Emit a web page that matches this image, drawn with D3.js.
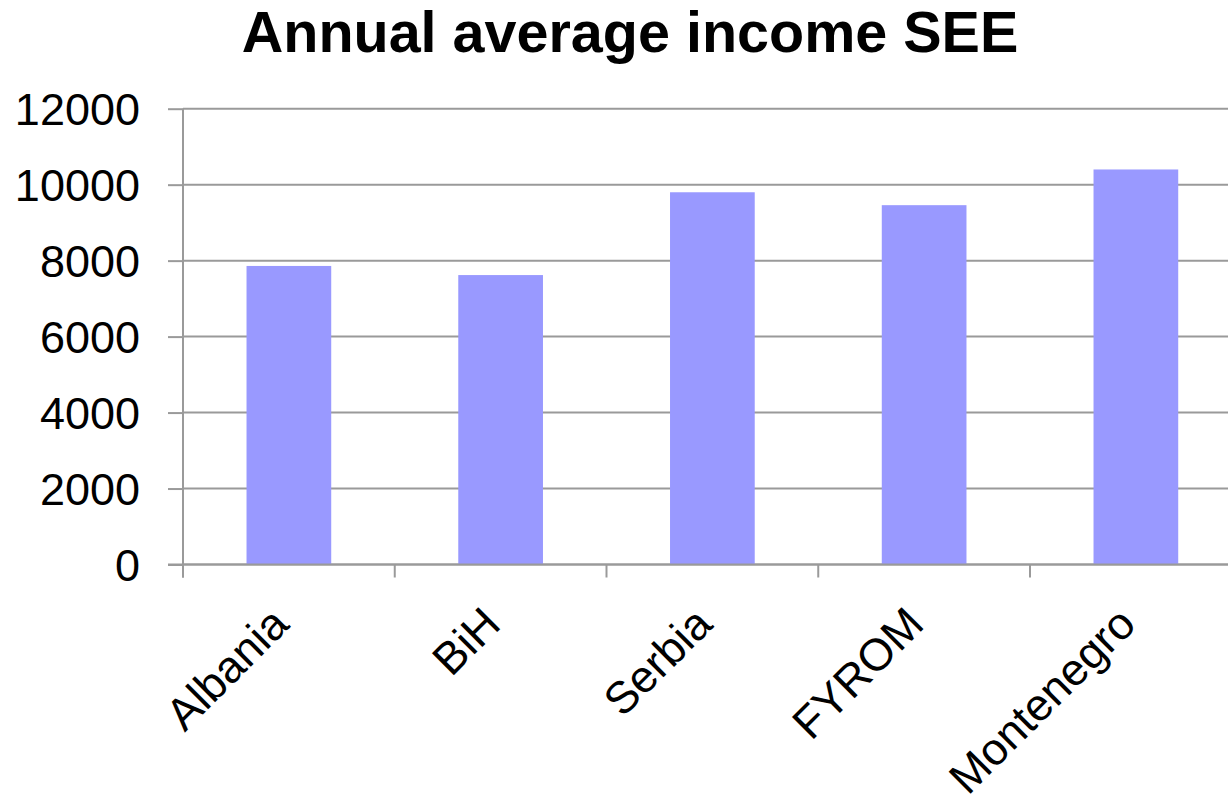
<!DOCTYPE html>
<html>
<head>
<meta charset="utf-8">
<script src="https://cdn.jsdelivr.net/npm/d3@7"></script>
<style>
  html, body { margin: 0; padding: 0; background: #fff; }
  svg { display: block; font-family: "Liberation Sans", Arial, sans-serif; }
</style>
</head>
<body>
<svg id="chart" width="1228" height="804"></svg>
<script>
// Annual average income by country, South-East Europe
const countries = ["Albania", "BiH", "Serbia", "FYROM", "Montenegro"];
const income = [7860, 7620, 9800, 9460, 10400];
const yTicks = [0, 2000, 4000, 6000, 8000, 10000, 12000];
const title = "Annual average income SEE";

const svg = d3.select("#chart");
const plotLeft = 183, plotTop = 108.7, plotBottom = 564.5;
const bandWidth = 211.75;
const plotRight = plotLeft + bandWidth * countries.length;

const x = d3.scaleBand().domain(countries).range([plotLeft, plotRight]).paddingInner(0.6).paddingOuter(0.3);
const y = d3.scaleLinear().domain([0, 12000]).range([plotBottom, plotTop]);

const gridColor = "#9a9a9a";

// horizontal gridlines
svg.append("g")
  .selectAll("line")
  .data(yTicks)
  .join("line")
  .attr("x1", plotLeft).attr("x2", 1228)
  .attr("y1", d => y(d)).attr("y2", d => y(d))
  .attr("stroke", gridColor).attr("stroke-width", 2);

// bars
svg.append("g")
  .selectAll("rect")
  .data(countries)
  .join("rect")
  .attr("x", d => x(d))
  .attr("width", x.bandwidth())
  .attr("y", (d, i) => y(income[i]))
  .attr("height", (d, i) => y(0) - y(income[i]))
  .attr("fill", "#9999ff");

// y axis
const yAxis = d3.axisLeft(y).tickValues(yTicks).tickSize(15).tickPadding(28).tickFormat(d3.format("d"));
const gy = svg.append("g").attr("transform", `translate(${plotLeft},0)`).call(yAxis);
gy.select(".domain").attr("stroke", gridColor).attr("stroke-width", 2).attr("d", `M0,${plotTop}V${plotBottom + 13}`);
gy.selectAll(".tick line").attr("stroke", gridColor).attr("stroke-width", 2);
gy.selectAll(".tick text").attr("font-size", 45).attr("fill", "#000")
  .attr("font-family", "'Liberation Sans', Arial, sans-serif").attr("dy", "0.36em");

// x axis: category boundary ticks
const boundaries = d3.range(countries.length + 1).map(i => plotLeft + i * bandWidth);
const gx = svg.append("g");
gx.append("line").attr("x1", plotLeft - 15).attr("x2", 1228).attr("y1", plotBottom).attr("y2", plotBottom)
  .attr("stroke", gridColor).attr("stroke-width", 2);
gx.selectAll("line.tick")
  .data(boundaries)
  .join("line")
  .attr("class", "tick")
  .attr("x1", d => d).attr("x2", d => d)
  .attr("y1", plotBottom).attr("y2", plotBottom + 13)
  .attr("stroke", gridColor).attr("stroke-width", 2);

// rotated category labels
gx.selectAll("text")
  .data(countries)
  .join("text")
  .attr("transform", d => `translate(${x(d) + x.bandwidth() / 2 + 2},${plotBottom + 62}) rotate(-45)`)
  .attr("text-anchor", "end")
  .attr("font-size", 45)
  .attr("fill", "#000")
  .text(d => d);

// title
svg.append("text")
  .attr("x", 630).attr("y", 52)
  .attr("text-anchor", "middle")
  .attr("font-size", 57.5)
  .attr("font-weight", "bold")
  .attr("fill", "#000")
  .text(title);
</script>
</body>
</html>
